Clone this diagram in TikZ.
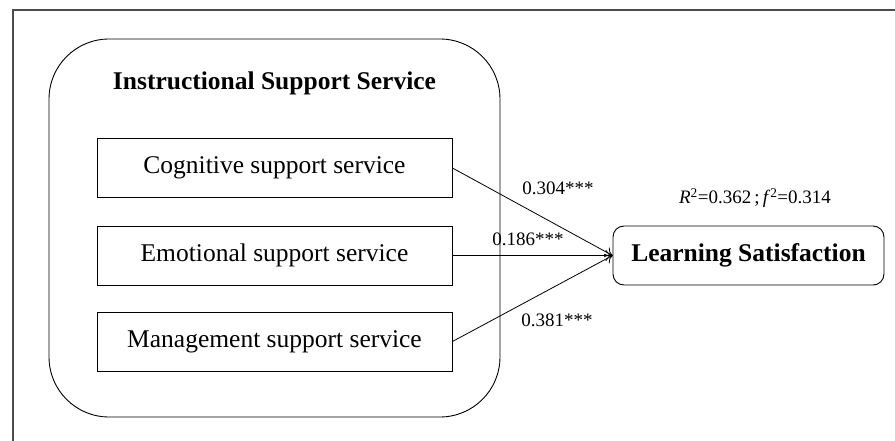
\documentclass[tikz,border=0pt]{standalone}
\usepackage{fontspec}
\setmainfont{Liberation Serif}
\usetikzlibrary{arrows.meta}
\begin{document}
\begin{tikzpicture}[x=1pt,y=-1pt,
  every node/.style={inner sep=0pt},
  groupbox/.style={draw, line width=0.9pt, rounded corners=60pt, minimum width=451pt, minimum height=378pt},
  factor/.style={draw, line width=0.9pt, minimum width=355pt, minimum height=59pt, font=\fontsize{25.5}{30}\selectfont},
  outcome/.style={draw, line width=0.9pt, rounded corners=11pt, minimum width=271pt, minimum height=59pt, font=\bfseries\fontsize{25.5}{30}\selectfont},
  heading/.style={font=\bfseries\fontsize{25.5}{30}\selectfont},
  coef/.style={font=\fontsize{19}{22}\selectfont},
  effect/.style={line width=0.8pt, -{To[length=7pt,width=11pt]}}
]
\useasboundingbox (0,0) rectangle (895,441);
% frame lines along the left and top
\draw[line width=1.2pt, draw=black!70] (13,442) -- (13,10) -- (896,10);

% instructional support group
\node[groupbox] (group) at (274.5,228) {};
\node[heading, anchor=base] (title) at (274.5,90) {Instructional Support Service};

\node[factor] (cog) at (274.5,168) {Cognitive support service};
\node[factor] (emo) at (274.5,255.5) {Emotional support service};
\node[factor] (man) at (274.5,341.5) {Management support service};

% outcome
\node[outcome] (ls) at (748.5,255.5) {Learning Satisfaction};
\node[coef] (r2) at (755,198) {\textit{R}\textsuperscript{2}=0.362\,;\,\textit{f}\textsuperscript{2}=0.314};

% paths
\draw[effect] (cog.east) -- (ls.west);
\draw[effect] (emo.east) -- (ls.west);
\draw[effect] (man.east) -- (ls.west);

\node[coef] (c1) at (558,188) {0.304***};
\node[coef] (c2) at (528,239) {0.186***};
\node[coef] (c3) at (557,320) {0.381***};
\end{tikzpicture}
\end{document}
